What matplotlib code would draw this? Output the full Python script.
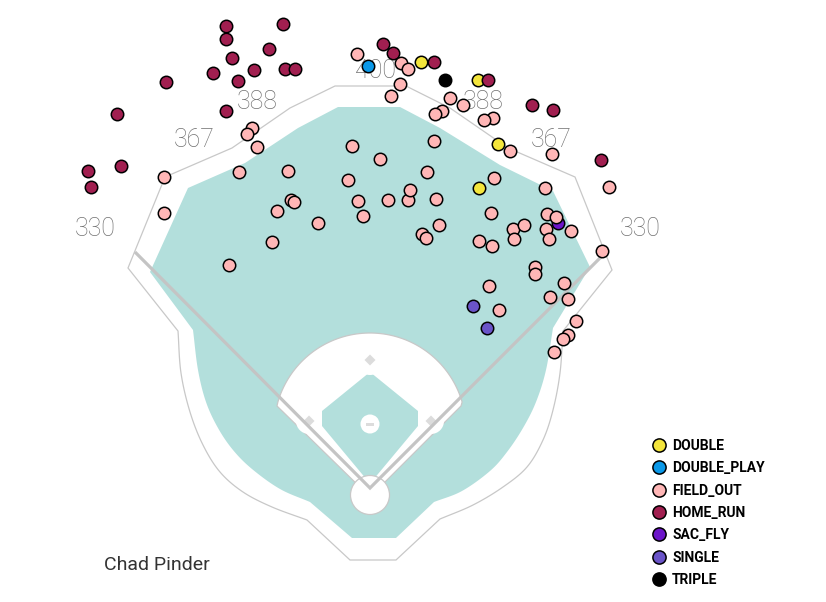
import numpy as np
import matplotlib
matplotlib.use("Agg")
import matplotlib.pyplot as plt
from matplotlib.patches import Polygon, Circle, Rectangle
from matplotlib.lines import Line2D

# ---------------- data (chart coordinates, y grows downward) ----------------
event_types = ["DOUBLE", "DOUBLE_PLAY", "FIELD_OUT", "HOME_RUN", "SAC_FLY", "SINGLE", "TRIPLE"]
event_colors = ["#f4e53c", "#0a98e8", "#ffb6b6", "#a11f50", "#6c15c9", "#6a54c8", "#000000"]

double_x = [420.7, 477.5, 498.3, 479.0]
double_y = [61.7, 79.7, 143.7, 188.3]

double_play_x = [368.3]
double_play_y = [65.5]

triple_x = [444.5]
triple_y = [80.0]

sac_fly_x = [557.5]
sac_fly_y = [223.3]

single_x = [473.3, 487.0]
single_y = [305.7, 327.7]

home_run_x = [225.7, 225.7, 283.3, 269.3, 232.0, 213.3, 237.7, 254.0, 285.0, 295.0,
              166.0, 117.3, 226.0, 121.3, 88.3, 91.0, 382.7, 392.7, 434.2, 488.3,
              532.3, 553.3, 600.7]
home_run_y = [25.7, 39.0, 24.0, 48.7, 57.7, 73.0, 81.0, 70.0, 69.3, 69.3,
              81.7, 114.3, 110.7, 166.3, 171.0, 186.7, 44.0, 52.7, 61.5, 80.0,
              105.0, 110.0, 160.0]

field_out_x = [357.3, 401.0, 408.3, 399.8, 391.0, 251.7, 246.7, 257.3, 164.3, 164.3,
               239.3, 288.3, 352.0, 380.0, 347.8, 291.0, 294.3, 277.3, 317.7, 358.3,
               363.3, 388.3, 408.0, 410.0, 272.3, 228.7, 450.0, 442.3, 434.7, 463.3,
               492.7, 484.0, 434.3, 510.0, 552.3, 426.7, 494.0, 545.3, 436.0, 491.3,
               439.0, 422.3, 426.0, 479.0, 492.3, 513.3, 524.0, 514.0, 547.3, 556.0,
               546.0, 549.3, 570.7, 601.7, 535.0, 535.0, 488.7, 499.3, 564.0, 549.8,
               567.8, 576.3, 568.0, 562.7, 554.3, 609.3]
field_out_y = [54.3, 63.3, 68.8, 84.3, 95.5, 128.0, 134.0, 146.7, 176.7, 213.3,
               172.0, 171.0, 145.7, 158.7, 179.7, 200.0, 202.3, 211.3, 223.3, 201.3,
               215.7, 199.7, 200.0, 190.3, 242.0, 265.0, 98.3, 110.7, 114.3, 104.7,
               118.0, 120.0, 140.7, 150.7, 154.0, 172.0, 178.0, 188.3, 198.7, 213.3,
               225.3, 234.0, 238.0, 240.7, 245.7, 229.3, 225.0, 239.3, 214.3, 216.7,
               229.3, 239.3, 230.7, 251.3, 266.7, 273.5, 286.0, 309.7, 283.3, 297.3,
               299.3, 320.5, 335.3, 339.3, 351.7, 186.7]

wall_labels = ["330", "367", "388", "400", "388", "367", "330"]
wall_label_x = [95.0, 194.0, 257.5, 376.0, 483.0, 551.5, 640.0]
wall_label_y = [229.5, 140.0, 102.0, 71.0, 102.0, 140.0, 229.5]

player_name = "Chad Pinder"


def catmull(pts, n=12):
    """Smooth curve through the given control points (Catmull-Rom)."""
    p = np.array(pts, dtype=float)
    p = np.vstack([2 * p[0] - p[1], p, 2 * p[-1] - p[-2]])
    out = []
    for i in range(1, len(p) - 2):
        p0, p1, p2, p3 = p[i - 1], p[i], p[i + 1], p[i + 2]
        for t in np.linspace(0, 1, n, endpoint=False):
            t2, t3 = t * t, t * t * t
            out.append(0.5 * ((2 * p1) + (-p0 + p2) * t + (2 * p0 - 5 * p1 + 4 * p2 - p3) * t2
                              + (-p0 + 3 * p1 - 3 * p2 + p3) * t3))
    out.append(p[-2])
    return [tuple(q) for q in out]


# ---------------- stadium geometry (decoration) ----------------
outer_top = [(307, 520), (350, 560), (396, 560), (440, 519)]
outer_right_curve = [(440, 519), (473, 505), (503, 487), (527, 467), (543, 440),
                     (553, 410), (560, 373), (563, 331)]
outer_upper = [(612, 270), (575, 177), (508, 148), (450, 108), (406, 86), (335, 86),
               (290, 108), (232, 148), (165, 177), (128, 268)]
outer_left_curve = [(178, 331), (181, 373), (190, 412), (203, 445), (220, 472),
                    (243, 492), (272, 507), (307, 520)]
outer_wall = (outer_top + catmull(outer_right_curve)[1:] + outer_upper
              + catmull(outer_left_curve))

grass_upper = [(590, 267), (553, 191), (500, 165), (440, 128), (400, 107), (338, 107),
               (298, 128), (245, 163), (188, 188), (150, 272)]
grass_left_curve = [(193, 330), (198, 370), (206, 402), (218, 428), (233, 450),
                    (252, 469), (280, 489), (310, 502)]
grass_right_curve = [(434, 502), (462, 491), (490, 471), (507, 452), (523, 428),
                     (536, 402), (546, 370), (553, 328)]
grass = (grass_upper + catmull(grass_left_curve) + [(352, 538), (396, 538)]
         + catmull(grass_right_curve))

TEAL = "#b3dfdc"
LINE = "#c8c8c8"
BASE = "#dcdcdc"

fig = plt.figure(figsize=(8.26, 6.02), dpi=100)
ax = fig.add_axes([0, 0, 1, 1])
ax.set_xlim(0, 826)
ax.set_ylim(602, 0)
ax.axis("off")

ax.add_patch(Polygon(outer_wall, closed=True, facecolor="white", edgecolor=LINE, lw=0.9, zorder=1))
ax.add_patch(Polygon(grass, closed=True, facecolor=TEAL, edgecolor="none", zorder=2))

# infield dirt
cx, cy, r = 370.0, 429.0, 96.0
t0 = np.degrees(np.arcsin((cy - 402.0) / r))
th = np.radians(np.linspace(180 - t0, t0, 80))
arc = list(zip(cx + r * np.cos(th), cy - r * np.sin(th)))
dirt = arc + [(461, 406), (375, 492), (365, 492), (277, 406)]
ax.add_patch(Polygon(dirt, closed=True, facecolor="white", edgecolor=LINE, lw=0.9, zorder=3))

infield_grass = [(370, 372), (322, 411), (322, 426), (367, 480), (373, 480), (418, 426), (418, 411)]
ax.add_patch(Polygon(infield_grass, closed=True, facecolor=TEAL, edgecolor="none", zorder=4))
for bx, by, br in [(370, 361, 14), (309, 421, 13), (431, 421, 13)]:
    ax.add_patch(Circle((bx, by), br, facecolor="white", edgecolor="none", zorder=5))
for bx, by in [(370, 360), (309, 421), (431, 421)]:
    ax.add_patch(Polygon([(bx, by - 5.5), (bx + 5.5, by), (bx, by + 5.5), (bx - 5.5, by)],
                         closed=True, facecolor=BASE, edgecolor="none", zorder=6))
ax.add_patch(Circle((370, 424), 9.5, facecolor="white", edgecolor="none", zorder=6))
ax.add_patch(Rectangle((366, 422.5), 8, 3, facecolor=BASE, edgecolor="none", zorder=7))
ax.add_patch(Circle((370, 495), 19.5, facecolor="white", edgecolor=LINE, lw=0.9, zorder=6))

ax.plot([135, 370, 601], [252, 488, 257], color="#c4c4c4", lw=2.3, zorder=8,
        solid_capstyle="butt", solid_joinstyle="miter")

for lab, lx, ly in zip(wall_labels, wall_label_x, wall_label_y):
    ax.text(lx, ly, lab, fontsize=18, family="Roboto", fontweight="light",
            color="#707070", ha="center", va="center", zorder=9)

# ---------------- batted balls ----------------
series = {
    "SAC_FLY": (sac_fly_x, sac_fly_y),
    "DOUBLE": (double_x, double_y),
    "HOME_RUN": (home_run_x, home_run_y),
    "FIELD_OUT": (field_out_x, field_out_y),
    "DOUBLE_PLAY": (double_play_x, double_play_y),
    "SINGLE": (single_x, single_y),
    "TRIPLE": (triple_x, triple_y),
}
cmap = dict(zip(event_types, event_colors))
for i, (name, (xs, ys)) in enumerate(series.items()):
    ax.scatter(xs, ys, s=80, color=cmap[name], edgecolor="black", linewidth=1.1, zorder=10 + i)

handles = [Line2D([0], [0], marker="o", linestyle="none", markersize=9.5,
                  markerfacecolor=c, markeredgecolor="black", markeredgewidth=1.1)
           for c in event_colors]
leg = ax.legend(handles, event_types, loc="upper left", bbox_to_anchor=(652, 439),
                bbox_transform=ax.transData, frameon=False, borderpad=0, borderaxespad=0,
                handlelength=1.0, handletextpad=0.45, labelspacing=0.6,
                prop={"family": "Roboto", "weight": "bold", "size": 10})
leg.set_zorder(30)

ax.text(157, 565, player_name, fontsize=14, family="Roboto", color="#333333",
        ha="center", va="center", zorder=30)

fig.savefig("out.png", dpi=100)
